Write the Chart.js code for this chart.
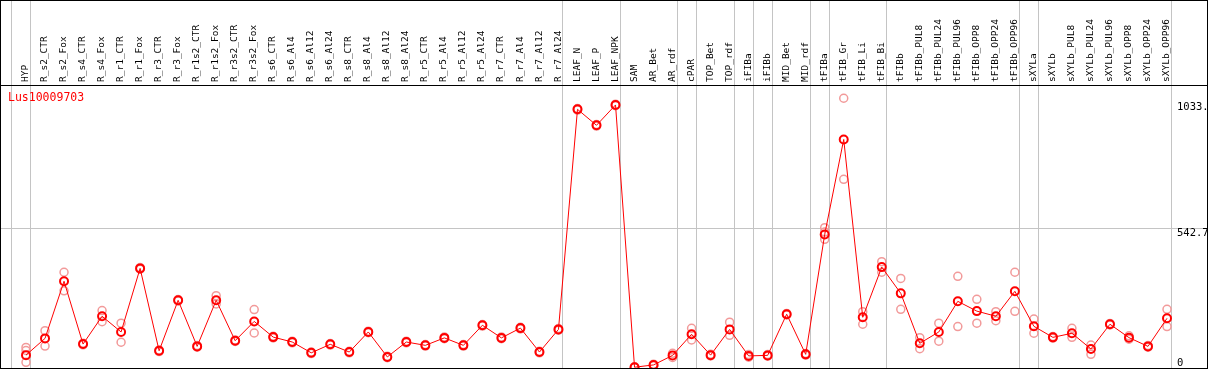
<!DOCTYPE html>
<html>
<head>
<meta charset="utf-8">
<script src="https://cdn.jsdelivr.net/npm/chart.js@4.4.1/dist/chart.umd.min.js"></script>
<style>
  html, body { margin: 0; padding: 0; background: #fff; }
  #wrap { width: 1209px; height: 370px; }
</style>
</head>
<body>
<div id="wrap"><canvas id="chart" width="1209" height="370"></canvas></div>
<script>
const geneName = 'Lus10009703'

const categories = [
    'HYP', 'R_s2_CTR', 'R_s2_Fox', 'R_s4_CTR', 'R_s4_Fox', 'R_r1_CTR', 'R_r1_Fox', 'R_r3_CTR', 'R_r3_Fox',
    'R_r1s2_CTR', 'R_r1s2_Fox', 'R_r3s2_CTR', 'R_r3s2_Fox', 'R_s6_CTR', 'R_s6_Al4', 'R_s6_Al12', 'R_s6_Al24',
    'R_s8_CTR', 'R_s8_Al4', 'R_s8_Al12', 'R_s8_Al24', 'R_r5_CTR', 'R_r5_Al4', 'R_r5_Al12', 'R_r5_Al24',
    'R_r7_CTR', 'R_r7_Al4', 'R_r7_Al12', 'R_r7_Al24', 'LEAF_N', 'LEAF_P', 'LEAF_NPK', 'SAM', 'AR_Bet', 'AR_rdf',
    'cPAR', 'TOP_Bet', 'TOP_rdf', 'iFIBa', 'iFIBb', 'MID_Bet', 'MID_rdf', 'tFIBa', 'tFIB_Gr', 'tFIB_Li', 'tFIB_Bi',
    'tFIBb', 'tFIBb_PUL8', 'tFIBb_PUL24', 'tFIBb_PUL96', 'tFIBb_OPP8', 'tFIBb_OPP24', 'tFIBb_OPP96',
    'sXYLa', 'sXYLb', 'sXYLb_PUL8', 'sXYLb_PUL24', 'sXYLb_PUL96', 'sXYLb_OPP8', 'sXYLb_OPP24', 'sXYLb_OPP96'
]

// mean expression per sample
const means = [
    50, 115, 337, 93, 201, 140, 387, 67, 263,
    84, 263, 106, 181, 120, 101, 59, 92,
    62, 140, 43, 101, 88, 117, 88, 166,
    117, 155, 62, 150, 1005, 943, 1022, 3, 12, 49,
    131, 50, 150, 47, 49, 209, 53, 519, 888, 197, 392,
    290, 96, 140, 259, 221, 201, 298,
    162, 119, 135, 74, 170, 118, 84, 193
]

// replicates (upper / lower)
const rep1 = [
    80, 145, 372, 96, 223, 174, 390, 70, 266,
    87, 281, 109, 227, 123, 104, 62, 95,
    65, 143, 46, 104, 91, 120, 91, 169,
    120, 158, 65, 153, 1008, 946, 1025, 5, 15, 57,
    154, 53, 178, 52, 52, 212, 56, 545, 1048, 219, 413,
    348, 118, 174, 356, 267, 219, 372,
    190, 122, 154, 89, 173, 125, 87, 228
]
const rep2 = [
    22, 85, 300, 90, 180, 100, 384, 64, 260,
    81, 249, 103, 136, 117, 98, 56, 89,
    59, 137, 40, 98, 85, 114, 85, 163,
    114, 152, 59, 147, 1002, 940, 1019, 1, 9, 41,
    109, 47, 127, 42, 46, 206, 50, 500, 733, 170, 372,
    228, 75, 104, 161, 174, 184, 220,
    135, 116, 119, 53, 167, 112, 81, 161
]
const rep3 = { HYP: 68, tFIBa: 528 }

// sample groups end after these indexes (-1 = before the first one)
const groupEnds = [-1, 0, 28, 31, 34, 35, 37, 38, 39, 41, 42, 45, 52, 53, 60]

const yTicks = [0, 542.7, 1033]
const yTickLabels = ['0', '542.7', '1033.']
const yGrid = [542.7]

const meanPts = means.map((v, i) => ({ x: i, y: v }))
const repPts = [
    ...rep1.map((v, i) => ({ x: i, y: v })),
    ...rep2.map((v, i) => ({ x: i, y: v })),
    ...Object.keys(rep3).map(k => ({ x: categories.indexOf(k), y: rep3[k] }))
]

const monoFont = '"DejaVu Sans Mono", "Liberation Mono", monospace'

const framePlugin = {
    id: 'frame',
    beforeDatasetsDraw(chart) {
        const { ctx, chartArea, scales: { x, y } } = chart
        ctx.save()
        ctx.fillStyle = '#c4c4c4'
        groupEnds.forEach(i => {
            const px = Math.round(x.getPixelForValue(i + 0.21))
            ctx.fillRect(px, 0, 1, chartArea.bottom)
        })
        yGrid.forEach(v => {
            const py = Math.round(y.getPixelForValue(v))
            ctx.fillRect(chartArea.left, py, chartArea.right - chartArea.left, 1)
        })
        ctx.restore()
    },
    afterDraw(chart) {
        const { ctx, chartArea, scales: { y } } = chart
        ctx.save()
        // value labels on the right
        ctx.font = '10.5px ' + monoFont
        ctx.fillStyle = '#000'
        ctx.textAlign = 'left'
        ctx.textBaseline = 'top'
        yTicks.forEach((v, i) => {
            const py = Math.min(Math.round(y.getPixelForValue(v)), chartArea.bottom - 10)
            ctx.fillText(yTickLabels[i], 1177, py)
        })
        // gene name
        ctx.font = '11.5px ' + monoFont
        ctx.fillStyle = '#ff0000'
        ctx.fillText(geneName, 8, chartArea.top + 7)
        // frame
        ctx.fillStyle = '#000'
        ctx.fillRect(0, 0, chartArea.right + 1, 1)
        ctx.fillRect(chartArea.left - 1, 0, 1, chartArea.bottom + 1)
        ctx.fillRect(chartArea.right, 0, 1, chartArea.bottom + 1)
        ctx.fillRect(chartArea.left - 1, chartArea.bottom, chartArea.right - chartArea.left + 2, 1)
        ctx.fillRect(chartArea.left - 1, chartArea.top, chartArea.right - chartArea.left + 2, 1)
        ctx.restore()
    }
}

new Chart(document.getElementById('chart'), {
    type: 'line',
    data: {
        datasets: [{
            label: 'mean',
            data: meanPts,
            borderColor: '#ff0000',
            borderWidth: 1,
            tension: 0,
            pointRadius: 4,
            pointBorderWidth: 2,
            pointBorderColor: '#ff0000',
            pointBackgroundColor: 'rgba(0,0,0,0)'
        }, {
            label: 'replicates',
            data: repPts,
            showLine: false,
            pointRadius: 4,
            pointBorderWidth: 1.5,
            pointBorderColor: '#f29a9a',
            pointBackgroundColor: 'rgba(0,0,0,0)'
        }]
    },
    options: {
        responsive: false,
        devicePixelRatio: 1,
        animation: false,
        layout: { autoPadding: false, padding: { left: 1, right: 2, top: 0, bottom: 2 } },
        scales: {
            x: {
                type: 'linear',
                position: 'top',
                min: -1.3146,
                max: 62.103,
                afterBuildTicks: s => { s.ticks = categories.map((c, i) => ({ value: i })) },
                afterFit: s => {
                    s.height = 85
                    s.paddingLeft = 0
                    s.paddingRight = 0
                },
                grid: { display: false, drawTicks: false },
                border: { display: false },
                ticks: {
                    autoSkip: false,
                    minRotation: 90,
                    maxRotation: 90,
                    padding: 3,
                    labelOffset: 11,
                    color: '#000',
                    font: { family: monoFont, size: 9.5 },
                    callback: v => categories[v]
                }
            },
            y: {
                display: false,
                min: 0,
                max: 1099.5
            }
        },
        plugins: {
            legend: { display: false },
            tooltip: { enabled: false }
        }
    },
    plugins: [framePlugin]
})
</script>
</body>
</html>
